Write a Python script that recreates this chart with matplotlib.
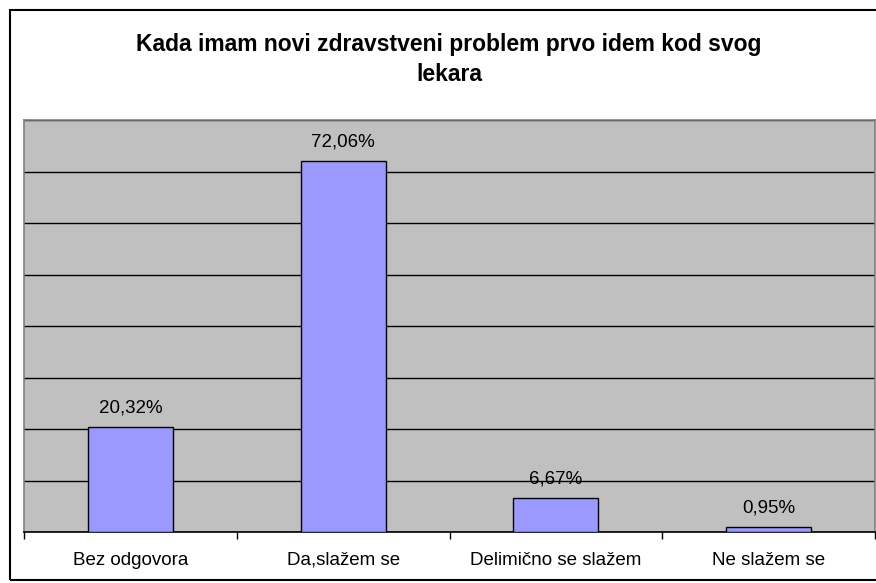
import matplotlib
matplotlib.use("Agg")
import matplotlib.pyplot as plt
from matplotlib.patches import Rectangle

categories = ["Bez odgovora", "Da,slažem se", "Delimično se slažem", "Ne slažem se"]
values = [20.32, 72.06, 6.67, 0.95]
title = "Kada imam novi zdravstveni problem prvo idem kod svog\nlekara"

plt.rcParams['font.family'] = ['Liberation Sans', 'DejaVu Sans']

W, H = 876, 583
fig = plt.figure(figsize=(W/100, H/100), dpi=100)
fig.patch.set_facecolor('white')

# outer border (right side runs off the image)
fig.patches.append(Rectangle((10/W, (H-580)/H), (W+20)/W, 570/H, transform=fig.transFigure,
                             fill=False, edgecolor='black', linewidth=1.5, zorder=0))

left, right, top, bottom = 24, 875, 120, 532
ax = fig.add_axes([left/W, (H-bottom)/H, (right-left)/W, (bottom-top)/H])
ax.set_facecolor('#C0C0C0')
x = list(range(len(categories)))
ax.bar(x, values, width=0.4, color='#9999FF', edgecolor='black', linewidth=1, zorder=3)
ax.set_xlim(-0.5, len(categories)-0.5)
ax.set_ylim(0, 80)
ax.set_yticks(range(0, 81, 10))
ax.yaxis.grid(True, color='black', linewidth=1)
ax.set_axisbelow(True)
ax.tick_params(axis='y', left=False, labelleft=False)
ax.set_xticks([i - 0.5 for i in range(len(categories)+1)])
ax.set_xticklabels([])
ax.set_xticks(x, minor=True)
ax.set_xticklabels(categories, minor=True)
ax.tick_params(axis='x', which='major', direction='out', length=5, width=1, color='black')
ax.tick_params(axis='x', which='minor', length=0, pad=23.5, labelsize=13.5)
for lbl in ax.get_xticklabels(minor=True):
    lbl.set_verticalalignment('baseline')
for s in ['left', 'right', 'top']:
    ax.spines[s].set_color('#808080')
    ax.spines[s].set_linewidth(1.2)
ax.spines['bottom'].set_color('black')
ax.spines['bottom'].set_linewidth(1.2)

for i, v in enumerate(values):
    ax.annotate(f"{v:.2f}%".replace('.', ','), (i, v), xytext=(0, 7.5), textcoords='offset points',
                ha='center', va='bottom', fontsize=13.5)

fig.text(449/W, 1 - 59.5/H, title, ha='center', va='center', fontsize=16.5, fontweight='bold',
         linespacing=1.42)

fig.savefig("out.png", dpi=100)
